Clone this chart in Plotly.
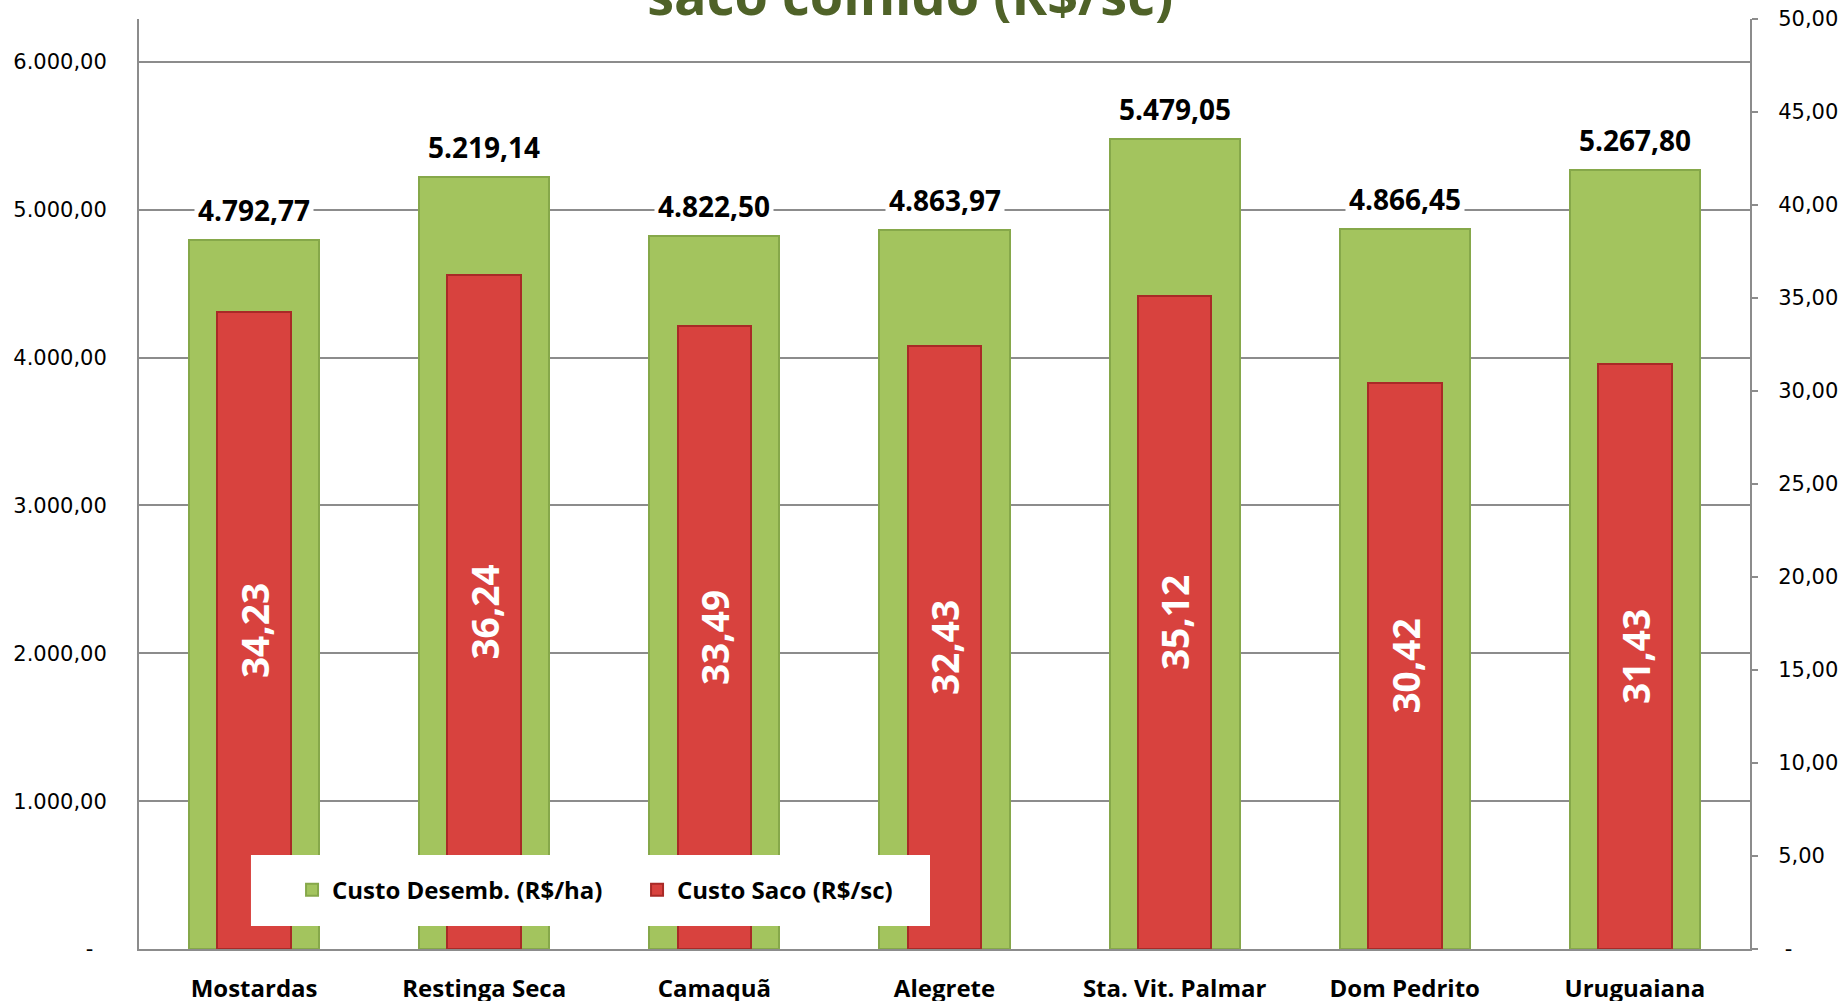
import plotly.graph_objects as go

categories = ["Mostardas", "Restinga Seca", "Camaquã", "Alegrete", "Sta. Vit. Palmar", "Dom Pedrito", "Uruguaiana"]
custo_desemb = [4792.77, 5219.14, 4822.50, 4863.97, 5479.05, 4866.45, 5267.80]
custo_saco = [34.23, 36.24, 33.49, 32.43, 35.12, 30.42, 31.43]

left_ticks = [0, 1000, 2000, 3000, 4000, 5000, 6000]
left_ticktext = ["-\u00a0\u00a0", "1.000,00", "2.000,00", "3.000,00", "4.000,00", "5.000,00", "6.000,00"]
right_ticks = [0, 5, 10, 15, 20, 25, 30, 35, 40, 45, 50]
right_ticktext = ["\u00a0-", "5,00", "10,00", "15,00", "20,00", "25,00", "30,00", "35,00", "40,00", "45,00", "50,00"]


def br(v, d=2):
    s = f"{v:,.{d}f}"
    return s.replace(",", "X").replace(".", ",").replace("X", ".")


fig = go.Figure()
fig.add_trace(go.Bar(
    x=categories, y=custo_desemb, name="Custo Desemb. (R$/ha)",
    width=0.565, marker=dict(color="#a3c45e", line=dict(color="#86a84a", width=2)),
    yaxis="y", hoverinfo="skip",
))
fig.add_trace(go.Bar(
    x=categories, y=custo_saco, name="Custo Saco (R$/sc)",
    width=0.32, marker=dict(color="#d8423e", line=dict(color="#a92a27", width=2)),
    yaxis="y2", text=[br(v) for v in custo_saco], textposition="inside",
    insidetextanchor="middle", textangle=-90,
    textfont=dict(family="Open Sans", size=37, color="white", weight="bold"),
    hoverinfo="skip",
))

for c, v in zip(categories, custo_desemb):
    fig.add_annotation(x=c, y=v, xref="x", yref="y", text=f"<b>{br(v)}</b>",
                       showarrow=False, yanchor="bottom", yshift=7,
                       bgcolor="white", borderpad=3,
                       font=dict(family="Open Sans", size=28, color="black"))

fig.add_annotation(x=0.4786, y=1.0, xref="paper", yref="paper", yanchor="bottom", yshift=-14,
                   text="<b>Custo desembolsado por hectare e por<br>saco colhido (R$/sc)</b>",
                   showarrow=False, font=dict(family="Open Sans", size=54, color="#4f6228"))

fig.add_shape(type="rect", xref="paper", yref="paper", x0=0.0695, x1=0.491, y0=0.0247, y1=0.101,
              fillcolor="white", line=dict(width=0), layer="above")

fig.update_layout(
    width=1845, height=1001,
    margin=dict(l=139, r=95, t=19, b=52, autoexpand=False),
    paper_bgcolor="white", plot_bgcolor="white",
    barmode="overlay", bargap=0,
    showlegend=True,
    legend=dict(orientation="h", x=0.095, y=0.0634, xanchor="left", yanchor="middle",
                bgcolor="rgba(0,0,0,0)", font=dict(family="Open Sans", size=24, color="black", weight="bold"),
                itemwidth=30, entrywidth=300, entrywidthmode="pixels", tracegroupgap=0),
    xaxis=dict(showgrid=False, showline=True, linecolor="#8c8c8c", linewidth=2, automargin=False,
               tickfont=dict(family="Open Sans", size=24, color="black", weight="bold"),
               ticklabelstandoff=17, ticks=""),
    yaxis=dict(range=[0, 6290], tickvals=left_ticks, ticktext=left_ticktext, automargin=False,
               showgrid=True, gridcolor="#8c8c8c", gridwidth=1.5,
               showline=True, linecolor="#8c8c8c", linewidth=2, zeroline=False,
               tickfont=dict(family="DejaVu Sans", size=21, color="black"),
               ticks="", ticklabelstandoff=26),
    yaxis2=dict(range=[0, 50], tickvals=right_ticks, ticktext=right_ticktext, automargin=False,
                overlaying="y", side="right", showgrid=False,
                showline=True, linecolor="#8c8c8c", linewidth=2, zeroline=False,
                ticks="outside", ticklen=6, tickcolor="#8c8c8c", tickwidth=1.5,
                tickfont=dict(family="DejaVu Sans", size=21, color="black"),
                ticklabelstandoff=16),
)

fig.write_html("out.html", post_script="document.body.style.margin='0';",
               config={"displayModeBar": False})
